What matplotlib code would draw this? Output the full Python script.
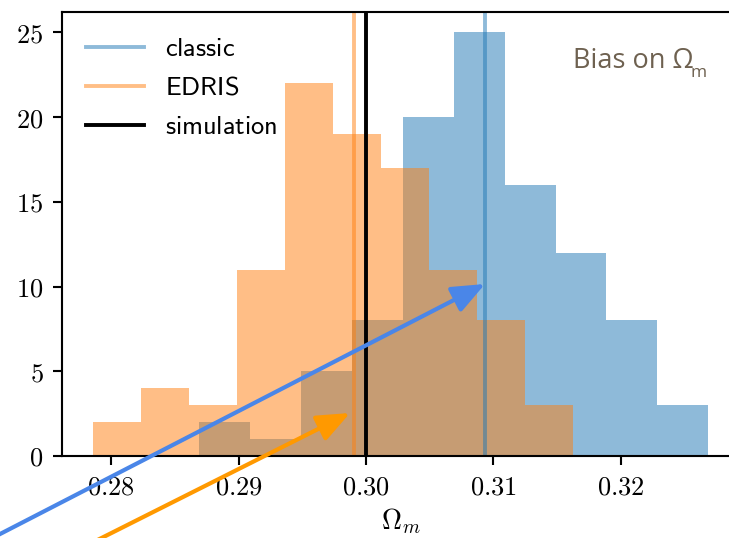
import numpy as np
import matplotlib
matplotlib.use("Agg")
import matplotlib.pyplot as plt

# ---- data ----
classic_counts = [2, 1, 5, 8, 20, 25, 16, 12, 8, 3]
classic_range = (0.28693, 0.32688)
edris_counts = [2, 4, 3, 11, 22, 19, 17, 11, 8, 3]
edris_range = (0.27856, 0.31629)
classic_mean = 0.30936
edris_mean = 0.29910
simulation_value = 0.300
xticks = [0.28, 0.29, 0.30, 0.31, 0.32]
yticks = [0, 5, 10, 15, 20, 25]

plt.rcParams['mathtext.fontset'] = 'cm'

S = 1.9
W, H = 729, 538
fig = plt.figure(figsize=(W / 100, H / 100), dpi=100)
ax = fig.add_axes([62 / W, 1 - 456 / H, (739 - 62) / W, (456 - 12) / H])

cl_edges = np.linspace(classic_range[0], classic_range[1], len(classic_counts) + 1)
ed_edges = np.linspace(edris_range[0], edris_range[1], len(edris_counts) + 1)

ax.hist(cl_edges[:-1], bins=cl_edges, weights=classic_counts, color='C0', alpha=0.5)
ax.hist(ed_edges[:-1], bins=ed_edges, weights=edris_counts, color='C1', alpha=0.5)

lw = 2.8
ax.axvline(classic_mean, color='C0', alpha=0.5, lw=lw, label=r'$\mathsf{classic}$')
ax.axvline(edris_mean, color='C1', alpha=0.5, lw=lw, label=r'$\mathsf{EDRIS}$')
ax.axvline(simulation_value, color='black', lw=lw, label=r'$\mathsf{simulation}$')

ax.set_xlim(0.27614, 0.3293)
ax.set_ylim(0, 26.2)
ax.set_xticks(xticks)
ax.set_yticks(yticks)
ax.set_xticklabels([r'$%.2f$' % v for v in xticks])
ax.set_yticklabels([r'$%d$' % v for v in yticks])
ax.tick_params(labelsize=19, length=3.5 * S, width=0.8 * S, pad=3.5 * S)
for sp in ax.spines.values():
    sp.set_linewidth(0.8 * S)
ax.set_xlabel(r'$\Omega_m$', fontsize=20, labelpad=4)

ax.legend(loc='upper left', frameon=False, fontsize=19, handlelength=2.2)

# overlay annotation
tc = '#6e6150'
fig.text(573 / W, 1 - 68.5 / H, 'Bias on Ω', family='Open Sans', fontsize=19.5,
         color=tc, ha='left', va='baseline')
fig.text(690.5 / W, 1 - 77.5 / H, 'm', family='Open Sans', fontsize=12.5,
         color=tc, ha='left', va='baseline')

# arrows (figure pixel coords)
def arrow(tail, tip, color):
    fig.add_artist(matplotlib.patches.FancyArrowPatch(
        (tail[0] / W, 1 - tail[1] / H), (tip[0] / W, 1 - tip[1] / H),
        transform=fig.transFigure, arrowstyle='-|>,head_length=0.8,head_width=0.33',
        mutation_scale=25, color=color, lw=3.0, shrinkA=0, shrinkB=0))

arrow((-10, 539.2), (485, 284), '#4a86e8')
arrow((90, 543.8), (350, 413), '#ff9900')

fig.savefig('out.png', dpi=100)
